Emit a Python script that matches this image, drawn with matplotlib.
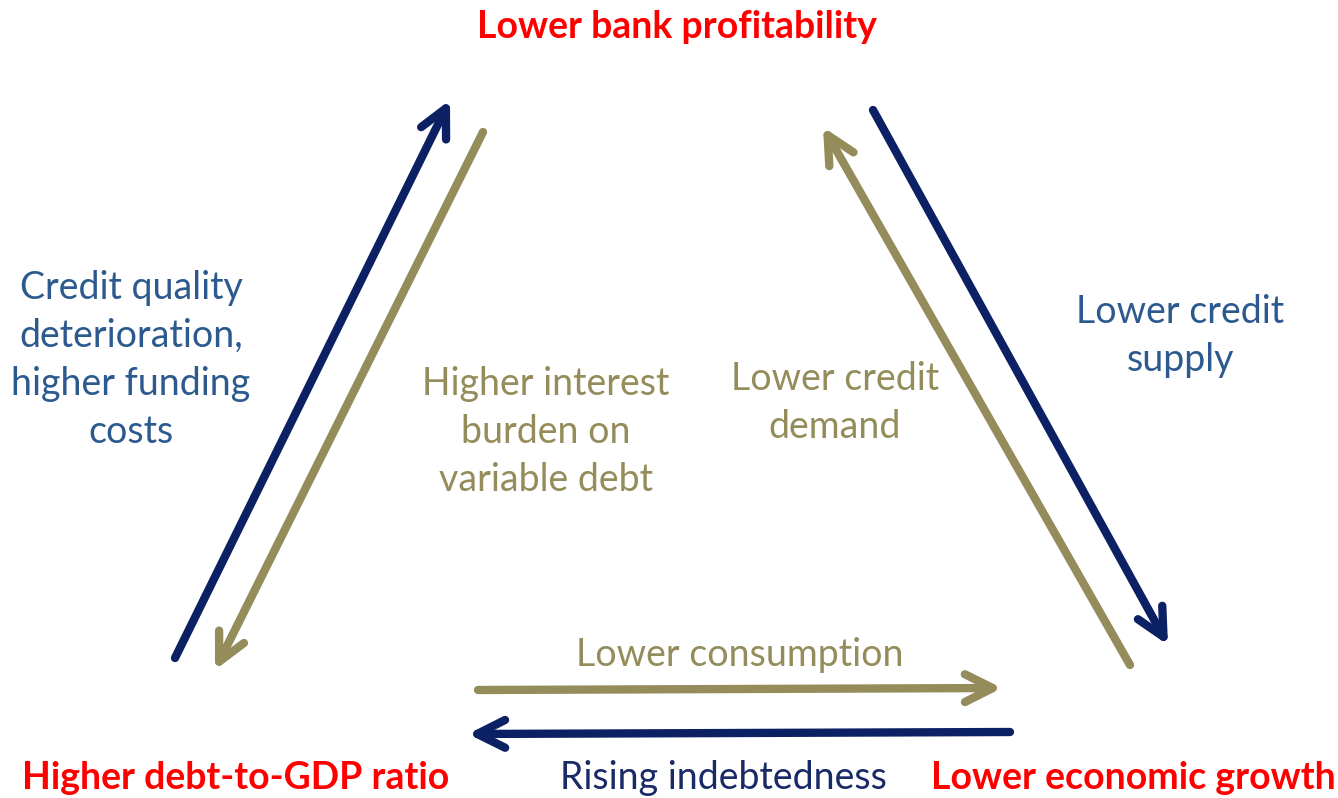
import matplotlib.pyplot as plt

# colours
navy = "#0c2064"
olive = "#948c5a"
red = "#ff0000"
blue_txt = "#2d5a8e"
navy_txt = "#1a2a66"

# nodes and arrow links (pixel positions of the original slide)
nodes = ["Lower bank profitability", "Higher debt-to-GDP ratio", "Lower economic growth"]
node_xy = [(677, 27), (236, 778), (1133, 778)]

arrows_start = [(175, 658), (483, 132), (1130, 665), (873, 110), (478, 690), (1010, 732)]
arrows_end = [(450, 100), (215, 670), (823, 127), (1168, 645), (1002, 688), (468, 734)]
arrows_col = [navy, olive, olive, navy, olive, navy]

labels = ["Credit quality\ndeterioration,\nhigher funding\ncosts",
          "Higher interest\nburden on\nvariable debt",
          "Lower credit\ndemand",
          "Lower credit\nsupply",
          "Lower consumption",
          "Rising indebtedness"]
labels_xy = [(131, 360), (546, 432), (835, 403), (1180, 336), (740, 655), (723, 778)]
labels_col = [blue_txt, olive, olive, blue_txt, olive, navy_txt]

plt.rcParams['font.family'] = ['Lato', 'DejaVu Sans']

fig = plt.figure(figsize=(13.38, 7.98), dpi=100)
ax = fig.add_axes([0, 0, 1, 1])
ax.set_xlim(0, 1338)
ax.set_ylim(798, 0)
ax.axis("off")

for s, e, c in zip(arrows_start, arrows_end, arrows_col):
    ax.annotate("", xy=e, xytext=s,
                arrowprops=dict(arrowstyle="->,head_length=2.0,head_width=1.0",
                                color=c, lw=6, capstyle="round",
                                joinstyle="round", shrinkA=0, shrinkB=0))

for t, (x, y) in zip(nodes, node_xy):
    ax.text(x, y, t, color=red, fontsize=27, fontweight="bold",
            ha="center", va="center")

for t, (x, y), c in zip(labels, labels_xy, labels_col):
    ax.text(x, y, t, color=c, fontsize=27, ha="center", va="center",
            linespacing=1.42)

fig.savefig("out.png", dpi=100)
